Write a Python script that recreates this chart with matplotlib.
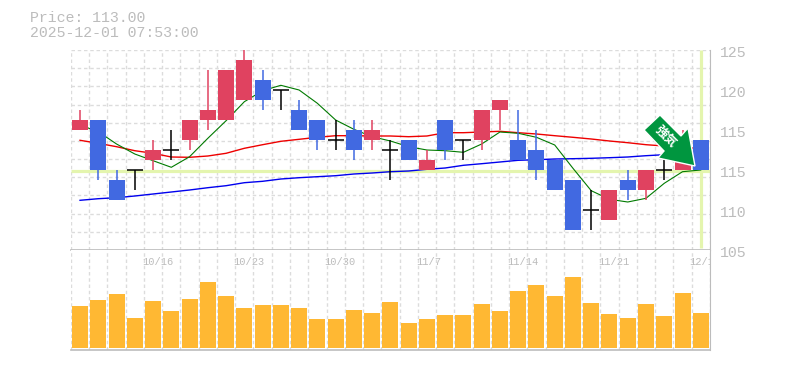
import matplotlib
matplotlib.use("Agg")
import matplotlib.pyplot as plt
from matplotlib.patches import Polygon

ticks_x = [4, 9, 14, 19, 24, 29, 34]
tick_labels = ["10/16", "10/23", "10/30", "11/7", "11/14", "11/21", "12/1"]
price_pos = [125, 121, 117, 113, 109, 105]
price_labels = ["125", "120", "115", "115", "110", "105"]

opens  = [117,118,112,113,114,115,116,118,118,120,122,121,119,118,116,117,116,115,116,113,118,116,116,119,116,115,114,112,109,108,112,111,113,113,116]
closes = [118,113,110,113,115,115,118,119,123,124,120,121,117,116,116,115,117,115,114,114,115,116,119,120,114,113,111,107,109,111,111,113,113,114,113]
highs  = [119,118,113,113,116,117,118,123,123,125,123,121,120,118,118,118,118,116,116,115,118,116,119,120,119,117,114,112,111,111,113,113,114,117,116]
lows   = [117,112,110,111,113,114,115,117,118,120,119,119,117,115,115,114,115,112,114,113,114,114,115,117,114,112,111,107,107,108,110,110,112,113,113]
volumes = [42,48,54,30,47,37,49,66,52,40,43,43,40,29,29,38,35,46,25,29,33,33,44,37,57,63,52,71,45,34,30,44,32,55,35]
ma_short = [117.5,116.83,115.6,114.6,113.93,113.27,114.33,116.17,117.93,119.83,120.93,121.47,121,119.67,118,117.07,116.33,115.9,115.33,115,114.93,114.77,115.6,116.8,116.67,116.27,115.5,113.17,110.93,110.07,109.8,110.17,111.67,112.83,113]
ma_mid = [115.97,115.67,115.33,114.93,114.67,114.3,114.27,114.4,114.67,115.17,115.53,115.87,116.07,116.27,116.43,116.43,116.4,116.4,116.33,116.4,116.73,116.73,116.8,116.87,116.73,116.6,116.43,116.27,116.1,115.9,115.73,115.53,115.4,115.27,115.13]
ma_long = [109.97,110.13,110.23,110.4,110.6,110.8,111,111.23,111.43,111.73,111.87,112.1,112.23,112.33,112.43,112.6,112.7,112.83,112.9,113.07,113.2,113.47,113.63,113.8,113.97,114.03,114.1,114.13,114.17,114.23,114.3,114.43,114.53,114.67,114.8]
last_price = 113

W, H = 785, 370
GREY = "#bcbcbc"
GRID = "#dcdcdc"
RED = "#E04260"
BLUE = "#4169E1"
ORANGE = "#FFB833"
HILITE = "#E4F5AE"
GRN = "#00963F"
MONO = "Liberation Mono"

fig = plt.figure(figsize=(W / 100, H / 100), dpi=100, facecolor="white")
def axes_px(x0, y0, x1, y1):
    return fig.add_axes([x0 / W, 1 - y1 / H, (x1 - x0) / W, (y1 - y0) / H])

ax = axes_px(70.9, 50, 709.9, 250)
vx = axes_px(70.9, 250, 709.9, 350)
n = len(closes)
for a in (ax, vx):
    a.set_xlim(-0.5, n - 0.5)
    a.set_xticks([i - 0.5 for i in range(n + 1)])
    a.tick_params(left=False, bottom=False, labelleft=False, labelbottom=False)
    a.grid(True, color=GRID, lw=1, ls=(0, (2.5, 2)), zorder=0)
    a.set_axisbelow(True)
    for s in a.spines.values():
        s.set_visible(False)
    a.spines["right"].set_visible(True)
    a.spines["right"].set_color(GREY)
    a.spines["bottom"].set_visible(True)
    a.spines["bottom"].set_color(GREY)
    a.spines["bottom"].set_linewidth(1.2)

ax.set_ylim(105, 125)
ax.set_yticks([105 + i * 20 / 11 for i in range(12)])
vx.set_ylim(-2, 98)
vx.set_yticks([])

xs = list(range(n))
ax.plot([-0.5, n - 0.5], [last_price - 0.08] * 2, color=HILITE, lw=2.3, zorder=1, solid_capstyle="butt")
ax.plot([n - 1, n - 1], [105.2, 125], color=HILITE, lw=2.3, zorder=1, solid_capstyle="butt")
ax.plot(xs, ma_long, color="#0000ee", lw=1.0, zorder=2)
ax.plot(xs, ma_mid, color="#ee0000", lw=1.0, zorder=2)
ax.plot(xs, ma_short, color="#007a00", lw=0.8, zorder=2)

for i in xs:
    o, c, h, l = opens[i], closes[i], highs[i], lows[i]
    col = "black" if o == c else (RED if c > o else BLUE)
    ax.plot([i, i], [l, h], color=col, lw=1.1, zorder=3, solid_capstyle="butt")
    if o == c:
        ax.plot([i - 0.44, i + 0.44], [o, o], color="black", lw=1.1, zorder=3, solid_capstyle="butt")
    else:
        ax.bar(i, abs(c - o), bottom=min(o, c), width=0.876, color=col, zorder=4, linewidth=0)

vx.bar(xs, volumes, width=0.876, color=ORANGE, linewidth=0, zorder=3)

for pos, lab in zip(ticks_x, tick_labels):
    vx.text(pos - 0.61, 86, lab, ha="left", va="center", fontsize=7.5, color=GREY, family=MONO, clip_on=True, zorder=5)

for pos, lab in zip(price_pos, price_labels):
    ax.annotate(lab, (1, pos), xycoords=("axes fraction", "data"), xytext=(10, -3), textcoords="offset pixels",
                ha="left", va="center", fontsize=10.7, color=GREY, family=MONO, annotation_clip=False)

fig.text(29.5 / W, 1 - 18 / H, "Price: 113.00", ha="left", va="center", fontsize=10.7, color=GREY, family=MONO)
fig.text(29.5 / W, 1 - 33 / H, "2025-12-01 07:53:00", ha="left", va="center", fontsize=10.7, color=GREY, family=MONO)

# arrow annotation, in figure pixel coordinates
arrow_px = [(660, 115), (681, 136), (688, 128), (695, 166), (658, 158), (664, 151), (644, 130)]
outline = [(x, H - y) for x, y in arrow_px]
fig.add_artist(Polygon(outline, closed=True, transform=None, facecolor=GRN, edgecolor="white", lw=1.0, zorder=10))
fig.text(666 / W, 1 - 137 / H, "強気", rotation=-45, ha="center", va="center", rotation_mode="anchor",
         fontsize=9, fontweight="bold", color="white", family="Noto Sans CJK JP", zorder=11)

fig.savefig("out.png", dpi=100)
